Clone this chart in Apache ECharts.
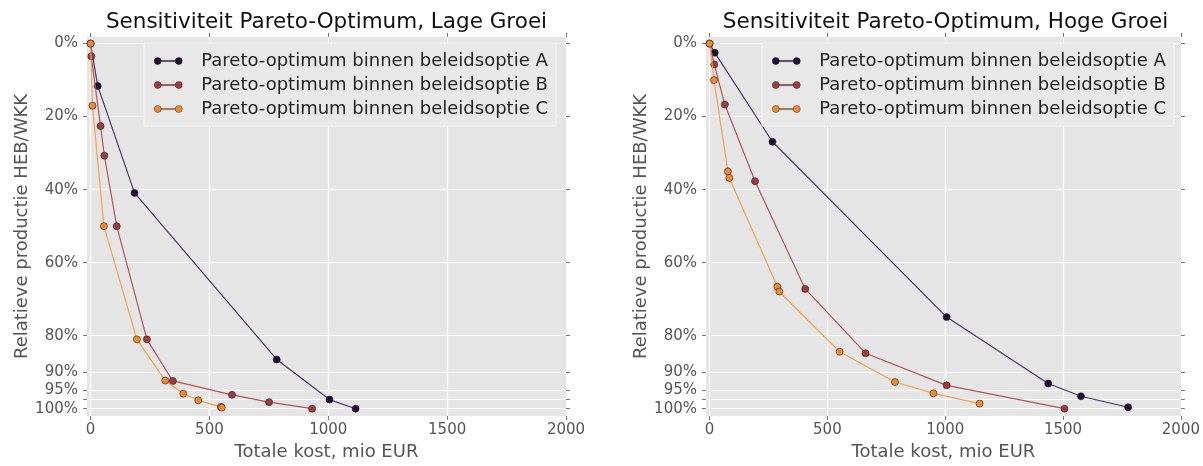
<!DOCTYPE html>
<html><head><meta charset="utf-8">
<script src="https://cdn.jsdelivr.net/npm/echarts@6/dist/echarts.min.js"></script>
<style>html,body{margin:0;padding:0;background:#fff}#c{width:1203px;height:466px}</style>
</head><body><div id="c"></div>
<script>
// ---- tick definitions ----
const xTicks = [0, 500, 1000, 1500, 2000];
const yTicks = [0, 20, 40, 60, 80, 90, 95, 97.5, 100];
const yTickLabels = ['0%', '20%', '40%', '60%', '80%', '90%', '95%', '', '100%'];
const panelTitles = ['Sensitiviteit Pareto-Optimum, Lage Groei', 'Sensitiviteit Pareto-Optimum, Hoge Groei'];
const seriesNames = ['Pareto-optimum binnen beleidsoptie A', 'Pareto-optimum binnen beleidsoptie B', 'Pareto-optimum binnen beleidsoptie C'];
const xTitle = 'Totale kost, mio EUR';
const yTitle = 'Relatieve productie HEB/WKK';

// ---- Lage Groei (left) ----
const lowA_cost = [0, 30, 185, 783, 1005, 1115];
const lowA_prod = [0, 11.6, 40.9, 86.5, 97.5, 100];
const lowB_cost = [0, 3, 42, 58, 110, 237, 346, 595, 751, 932];
const lowB_prod = [0, 3.5, 22.6, 30.7, 50, 81, 92.4, 96.2, 98.2, 100];
const lowC_cost = [0, 8, 56, 195, 314, 390, 453, 548, 552];
const lowC_prod = [0, 17, 50, 81, 92.3, 95.9, 97.7, 99.5, 99.7];

// ---- Hoge Groei (right) ----
const highA_cost = [0, 22, 267, 1006, 1437, 1576, 1776];
const highA_prod = [0, 2.5, 26.9, 74.9, 93.1, 96.6, 99.6];
const highB_cost = [0, 20, 65, 193, 406, 662, 1006, 1506];
const highB_prod = [0, 5.7, 16.7, 37.7, 67.2, 84.8, 93.6, 100];
const highC_cost = [0, 19, 78, 84, 288, 296, 552, 787, 950, 1146];
const highC_prod = [0, 10, 35, 36.8, 66.6, 67.9, 84.4, 92.7, 95.8, 98.6];

const zip = (a, b) => a.map((v, i) => [v, b[i]]);
const FONT = 'DejaVu Sans';
const markerColors = ['#1d0f38', '#a33a3d', '#f28b26'];
const lineColors = ['#463864', '#b5525a', '#f6a24a'];

const panels = [
  {grid: {left: 87, right: 637, top: 37, bottom: 46}, data: [zip(lowA_cost, lowA_prod), zip(lowB_cost, lowB_prod), zip(lowC_cost, lowC_prod)], legendLeft: 144},
  {grid: {left: 706, right: 18, top: 37, bottom: 46}, data: [zip(highA_cost, highA_prod), zip(highB_cost, highB_prod), zip(highC_cost, highC_prod)], legendLeft: 762}
];
const XMIN = -15, XMAX = 2000, YMIN = -1.8, YMAX = 102;

const grids = [], xAxes = [], yAxes = [], series = [], legends = [], graphics = [];
const tickStyle = {show: true, inside: false, length: 4, lineStyle: {color: '#777', width: 1}};
const iconPath = 'path://M0,3.5A3.5,3.5,0,1,0,7,3.5A3.5,3.5,0,1,0,0,3.5ZM21,3.5A3.5,3.5,0,1,0,28,3.5A3.5,3.5,0,1,0,21,3.5ZM7,2.9L21,2.9L21,4.1L7,4.1Z';

panels.forEach((p, gi) => {
  grids.push(Object.assign({backgroundColor: '#e5e5e5', show: true, borderWidth: 0}, p.grid));
  xAxes.push({
    type: 'value', gridIndex: gi, position: 'bottom', min: XMIN, max: XMAX,
    axisLine: {show: false, onZero: false},
    axisTick: Object.assign({customValues: xTicks}, tickStyle),
    axisLabel: {customValues: xTicks, color: '#555', fontFamily: FONT, fontSize: 15, margin: 7, formatter: v => String(v)},
    splitLine: {show: true, lineStyle: {color: '#ffffff', width: 1.2}},
    name: xTitle, nameLocation: 'middle', nameGap: 27,
    nameTextStyle: {color: '#555', fontFamily: FONT, fontSize: 18}
  });
  xAxes.push({
    type: 'value', gridIndex: gi, position: 'top', min: XMIN, max: XMAX,
    axisLine: {show: false, onZero: false},
    axisTick: Object.assign({customValues: xTicks}, tickStyle),
    axisLabel: {show: false, customValues: xTicks}, splitLine: {show: false}
  });
  yAxes.push({
    type: 'value', gridIndex: gi, position: 'left', min: YMIN, max: YMAX, inverse: true,
    axisLine: {show: false, onZero: false},
    axisTick: Object.assign({customValues: yTicks}, tickStyle),
    axisLabel: {customValues: yTicks, color: '#555', fontFamily: FONT, fontSize: 15, margin: 9,
      formatter: v => { const i = yTicks.indexOf(v); return i >= 0 ? yTickLabels[i] : ''; }},
    splitLine: {show: true, lineStyle: {color: '#ffffff', width: 1.2}},
    name: yTitle, nameLocation: 'middle', nameGap: 56,
    nameTextStyle: {color: '#555', fontFamily: FONT, fontSize: 18}
  });
  yAxes.push({
    type: 'value', gridIndex: gi, position: 'right', min: YMIN, max: YMAX, inverse: true,
    axisLine: {show: false, onZero: false},
    axisTick: Object.assign({customValues: yTicks}, tickStyle),
    axisLabel: {show: false, customValues: yTicks}, splitLine: {show: false}
  });
  p.data.forEach((d, si) => {
    series.push({
      type: 'line', name: seriesNames[si], xAxisIndex: gi * 2, yAxisIndex: gi * 2, data: d,
      symbol: 'circle', symbolSize: 7, showSymbol: true,
      lineStyle: {color: lineColors[si], width: 1.2},
      itemStyle: {color: markerColors[si], borderColor: 'rgba(40,30,40,0.85)', borderWidth: 0.7},
      emphasis: {disabled: true}, animation: false, z: 2 + si
    });
  });
  legends.push({
    orient: 'vertical', left: p.legendLeft, top: 43,
    data: seriesNames.map((n, i) => ({name: n, icon: iconPath, itemStyle: {color: markerColors[i], borderColor: 'rgba(40,30,40,0.85)', borderWidth: 0.5}})),
    itemWidth: 28, itemHeight: 7, itemGap: 4,
    padding: [8, 8, 7, 10],
    backgroundColor: '#e8e8e8', borderColor: '#f4f4f4', borderWidth: 1,
    textStyle: {fontFamily: FONT, fontSize: 18, color: '#222', lineHeight: 20, padding: [0, 0, 0, 14]},
    selectedMode: false
  });
  const cx = p.grid.left + (1203 - p.grid.left - p.grid.right) / 2;
  graphics.push({
    type: 'text', x: cx, y: 22, silent: true,
    style: {text: panelTitles[gi], fill: '#111', font: '21.5px "DejaVu Sans"', textAlign: 'center', textVerticalAlign: 'middle'}
  });
});

const chart = echarts.init(document.getElementById('c'), null, {renderer: 'canvas'});
chart.setOption({
  animation: false,
  grid: grids, xAxis: xAxes, yAxis: yAxes, series: series, legend: legends,
  graphic: graphics
});
</script>
</body></html>
